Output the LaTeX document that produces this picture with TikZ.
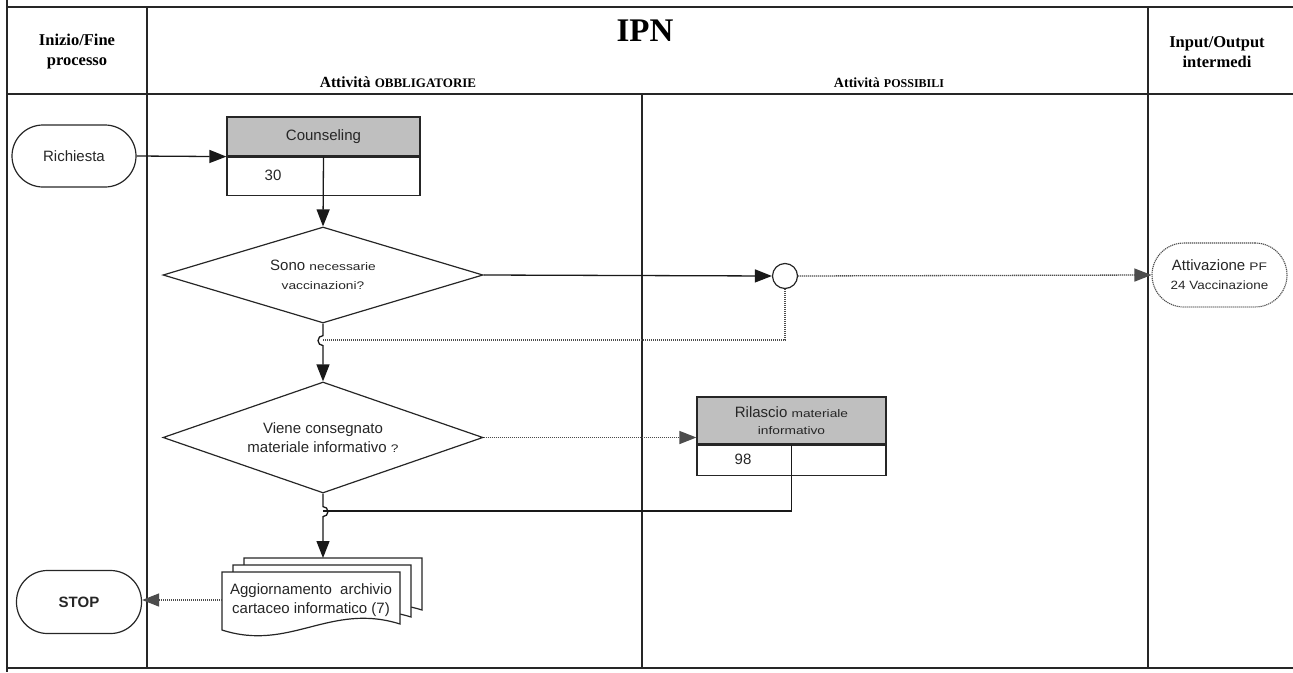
\documentclass[tikz,border=0pt]{standalone}
\usepackage{fontspec}
\usepackage{graphicx}
\setmainfont{Liberation Sans}
\newfontfamily\hdrfont{Liberation Serif}
\usetikzlibrary{arrows.meta,shapes.geometric}
\newcommand\fsz[2]{\fontsize{#1}{#2}\selectfont}
% small, slightly widened text used inside the shapes
\newcommand\smalltxt[1]{{\fsz{11}{15}\scalebox{1.25}[1]{#1}}}

\begin{document}
\begin{tikzpicture}[x=1pt,y=-1pt,
  frame/.style={line width=1.4pt, draw=black!85},
  wire/.style={line width=1.3pt, draw=black!90},
  conn/.style={wire, -{Triangle[length=17pt,width=13pt]}},
  dotwire/.style={line width=1.3pt, draw=black!70, dash pattern=on 1.2pt off 0.8pt},
  dconn/.style={dotwire, -{Triangle[length=17pt,width=13pt]}},
  txt/.style={font=\fsz{15}{19}, text=black!85, inner sep=0pt, align=center},
  term/.style={txt, draw=black!85, line width=1.2pt},
  hdrbox/.style={txt, draw=black!85, line width=1.2pt, fill=black!25},
  lowbox/.style={draw=black!85, line width=1.2pt, fill=white, inner sep=0pt},
  decision/.style={txt, diamond, draw=black!85, line width=1.2pt},
  page/.style={draw=black!85, line width=1.2pt, fill=white},
  head/.style={font=\hdrfont\bfseries\fsz{16.5}{20}, text=black, align=center, inner sep=0pt}]

\useasboundingbox (0,0) rectangle (1293,672);

% table frame
\draw[frame] (7,0) -- (7,672);
\draw[frame] (7,7) -- (1293,7);
\draw[frame] (7,94) -- (1293,94);
\draw[frame] (7,668) -- (1293,668);
\draw[frame] (147,7) -- (147,668);
\draw[frame] (1148,7) -- (1148,668);
\draw[frame] (642,94) -- (642,668);

% header
\node[head] (hstart) at (77,52) {Inizio/Fine\\processo};
\node[head, font=\hdrfont\bfseries\fsz{33}{36}] (htitle) at (645,31) {IPN};
\node[head] (hmand) at (398,82) {{\fsz{15.5}{16}Attività} {\fsz{13}{16}OBBLIGATORIE}};
\node[head] (hposs) at (889,83) {{\fsz{14}{16}Attività} {\fsz{12}{16}POSSIBILI}};
\node[head] (hio) at (1217,52) {Input/Output\\intermedi};

% terminals
\node[term, minimum width=124pt, minimum height=62pt, rounded corners=31pt] (rich) at (74,156) {Richiesta};
\node[term, minimum width=125pt, minimum height=63pt, rounded corners=31pt] (stop) at (79,602) {\bfseries STOP};

% Counseling activity
\node[hdrbox, minimum width=193pt, minimum height=39pt] (couns) at (323.5,136.5) {Counseling};
\node[lowbox, minimum width=193pt, minimum height=38pt, anchor=north] (counsnum) at (couns.south) {};
\node[txt] (n30) at (273,175) {30};

% decisions
\node[decision, minimum width=320pt, minimum height=96pt, aspect=3.33] (d1) at (323,275)
  {Sono \smalltxt{necessarie}\\\smalltxt{vaccinazioni?}};
\node[decision, minimum width=320pt, minimum height=111pt, aspect=2.88] (d2) at (323,437.5)
  {Viene consegnato\\materiale informativo \smalltxt{?}};

% junction and intermediate output
\node[circle, draw=black!85, line width=1.2pt, minimum size=25pt, inner sep=0pt] (junc) at (785,276) {};
\node[txt, draw=black!70, line width=1.1pt, dash pattern=on 1.2pt off 0.8pt,
      minimum width=135pt, minimum height=64pt, rounded corners=32pt] (attiv) at (1219.5,275)
  {Attivazione \smalltxt{PF}\\{\fsz{12}{16}\scalebox{1.12}[1]{24 Vaccinazione}}};

% Rilascio activity
\node[hdrbox, minimum width=189pt, minimum height=47pt, font=\fsz{15}{17}] (ril) at (791.5,420.5)
  {Rilascio \smalltxt{materiale}\\\smalltxt{informativo}};
\node[lowbox, minimum width=189pt, minimum height=30pt, anchor=north] (rilnum) at (ril.south) {};
\node[txt] (n98) at (743,459) {98};

% multi-page document
\foreach \dx/\dy in {22/-14, 11/-7, 0/0}
  \draw[page, shift={(\dx,\dy)}] (222,572) -- (400,572) -- (400,624)
    .. controls (330,602) and (290,652) .. (222,630) -- cycle;
\node[txt, minimum width=178pt, minimum height=56pt] (doc) at (311,600)
  {Aggiornamento \ archivio\\cartaceo informatico (7)};
\coordinate (doctop) at (323,558);

% connectors
\coordinate (merge1) at (323,340);
\coordinate (merge2) at (323,511);
\draw[conn] (rich.east) -- (couns.south west);
\draw[conn] (couns.south) -- (d1.north);
\draw[conn] (d1.east) -- (junc.west);
\draw[dconn] (junc.east) -- (attiv.west);
\draw[dotwire] (junc.south) |- (merge1);
\draw[conn] (d1.south) -- ++(0,12) arc[start angle=90, end angle=270, radius=5pt] -- (d2.north);
\draw[dconn] (d2.east) -- (d2.east -| ril.west);
\draw[wire] (ril.south) |- (merge2);
\draw[conn] (d2.south) -- ++(0,13) arc[start angle=90, end angle=-90, radius=5pt] -- (doctop);
\draw[dconn] (doc.west) -- (doc.west -| stop.east);

\end{tikzpicture}
\end{document}
